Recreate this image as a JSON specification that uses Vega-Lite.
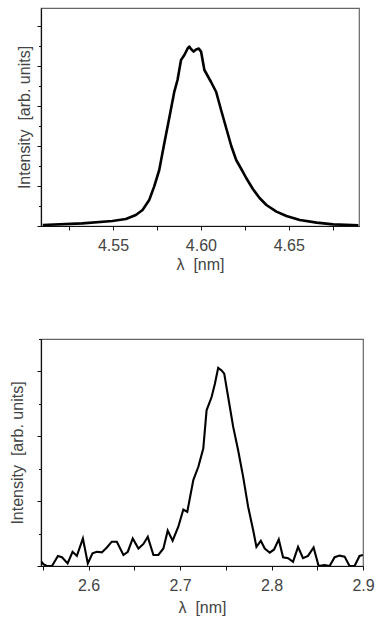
{
  "$schema": "https://vega.github.io/schema/vega-lite/v6.json",
  "background": "white",
  "padding": {"left": 8, "top": 7, "right": 5, "bottom": 5},
  "bounds": "flush",
  "spacing": 113,
  "config": {
    "view": {"stroke": "#666", "strokeWidth": 1.2},
    "font": "Liberation Sans",
    "axis": {
      "domainColor": "#111",
      "domainWidth": 1.2,
      "tickColor": "#111",
      "tickWidth": 1,
      "grid": false,
      "labelFont": "Liberation Sans",
      "labelFontSize": 16,
      "labelColor": "#444",
      "titleFont": "Liberation Sans",
      "titleFontSize": 16,
      "titleFontWeight": "normal",
      "titleColor": "#444",
      "labelOverlap": false,
      "labelFlush": false
    }
  },
  "datasets": {
    "top": [
      {"lambda": 4.510, "intensity": 0.05},
      {"lambda": 4.5325, "intensity": 0.13},
      {"lambda": 4.5496, "intensity": 0.25},
      {"lambda": 4.5573, "intensity": 0.35},
      {"lambda": 4.563, "intensity": 0.55},
      {"lambda": 4.5668, "intensity": 0.8},
      {"lambda": 4.5706, "intensity": 1.3},
      {"lambda": 4.5734, "intensity": 1.97},
      {"lambda": 4.5763, "intensity": 2.8},
      {"lambda": 4.5791, "intensity": 4.1},
      {"lambda": 4.582, "intensity": 5.4},
      {"lambda": 4.5849, "intensity": 6.72},
      {"lambda": 4.5867, "intensity": 7.3},
      {"lambda": 4.5887, "intensity": 8.3},
      {"lambda": 4.5906, "intensity": 8.55},
      {"lambda": 4.5925, "intensity": 8.88},
      {"lambda": 4.5934, "intensity": 8.97},
      {"lambda": 4.5944, "intensity": 8.85},
      {"lambda": 4.5959, "intensity": 8.72},
      {"lambda": 4.5973, "intensity": 8.83},
      {"lambda": 4.5988, "intensity": 8.87},
      {"lambda": 4.6001, "intensity": 8.72},
      {"lambda": 4.602, "intensity": 7.8},
      {"lambda": 4.6039, "intensity": 7.5},
      {"lambda": 4.6058, "intensity": 7.2},
      {"lambda": 4.6087, "intensity": 6.7},
      {"lambda": 4.6115, "intensity": 5.8},
      {"lambda": 4.6144, "intensity": 4.9},
      {"lambda": 4.6173, "intensity": 4.0},
      {"lambda": 4.6201, "intensity": 3.3},
      {"lambda": 4.623, "intensity": 2.85},
      {"lambda": 4.6258, "intensity": 2.4},
      {"lambda": 4.6296, "intensity": 1.85},
      {"lambda": 4.6334, "intensity": 1.4},
      {"lambda": 4.6373, "intensity": 1.05},
      {"lambda": 4.643, "intensity": 0.72},
      {"lambda": 4.6487, "intensity": 0.5},
      {"lambda": 4.6563, "intensity": 0.3},
      {"lambda": 4.6659, "intensity": 0.17},
      {"lambda": 4.6753, "intensity": 0.08},
      {"lambda": 4.6896, "intensity": 0.04}
    ],
    "bottom": [
      {"lambda": 2.5484, "intensity": 0.13},
      {"lambda": 2.5509, "intensity": 0.05},
      {"lambda": 2.5545, "intensity": 0},
      {"lambda": 2.56, "intensity": 0},
      {"lambda": 2.5665, "intensity": 0.31},
      {"lambda": 2.5709, "intensity": 0.27},
      {"lambda": 2.5771, "intensity": 0.08},
      {"lambda": 2.5825, "intensity": 0.44},
      {"lambda": 2.5872, "intensity": 0.31},
      {"lambda": 2.5938, "intensity": 0.85},
      {"lambda": 2.5992, "intensity": 0.08},
      {"lambda": 2.6043, "intensity": 0.39},
      {"lambda": 2.609, "intensity": 0.44},
      {"lambda": 2.6145, "intensity": 0.42},
      {"lambda": 2.62, "intensity": 0.57},
      {"lambda": 2.6254, "intensity": 0.75},
      {"lambda": 2.6309, "intensity": 0.75},
      {"lambda": 2.6381, "intensity": 0.34},
      {"lambda": 2.6429, "intensity": 0.44},
      {"lambda": 2.6483, "intensity": 0.85},
      {"lambda": 2.6545, "intensity": 0.54},
      {"lambda": 2.66, "intensity": 0.68},
      {"lambda": 2.6647, "intensity": 0.9},
      {"lambda": 2.6709, "intensity": 0.34},
      {"lambda": 2.6763, "intensity": 0.34},
      {"lambda": 2.6818, "intensity": 0.54},
      {"lambda": 2.6865, "intensity": 1.09},
      {"lambda": 2.6919, "intensity": 0.78},
      {"lambda": 2.6981, "intensity": 1.21},
      {"lambda": 2.7036, "intensity": 1.74},
      {"lambda": 2.7079, "intensity": 1.67},
      {"lambda": 2.7145, "intensity": 2.65},
      {"lambda": 2.72, "intensity": 3.06},
      {"lambda": 2.7254, "intensity": 3.62},
      {"lambda": 2.729, "intensity": 4.8},
      {"lambda": 2.7345, "intensity": 5.21},
      {"lambda": 2.7381, "intensity": 5.62},
      {"lambda": 2.7417, "intensity": 6.11},
      {"lambda": 2.7454, "intensity": 6.03},
      {"lambda": 2.7483, "intensity": 5.93},
      {"lambda": 2.7526, "intensity": 5.21},
      {"lambda": 2.7581, "intensity": 4.29},
      {"lambda": 2.7635, "intensity": 3.57},
      {"lambda": 2.769, "intensity": 2.75},
      {"lambda": 2.7744, "intensity": 1.83},
      {"lambda": 2.7799, "intensity": 1.11},
      {"lambda": 2.7835, "intensity": 0.59},
      {"lambda": 2.7883, "intensity": 0.78},
      {"lambda": 2.7926, "intensity": 0.54},
      {"lambda": 2.7981, "intensity": 0.41},
      {"lambda": 2.8028, "intensity": 0.51},
      {"lambda": 2.8079, "intensity": 0.82},
      {"lambda": 2.8126, "intensity": 0.27},
      {"lambda": 2.8181, "intensity": 0.24},
      {"lambda": 2.8235, "intensity": 0.13},
      {"lambda": 2.829, "intensity": 0.59},
      {"lambda": 2.8344, "intensity": 0.24},
      {"lambda": 2.8399, "intensity": 0.31},
      {"lambda": 2.846, "intensity": 0.57},
      {"lambda": 2.8515, "intensity": 0},
      {"lambda": 2.858, "intensity": 0.03},
      {"lambda": 2.8635, "intensity": 0},
      {"lambda": 2.869, "intensity": 0.27},
      {"lambda": 2.8744, "intensity": 0.32},
      {"lambda": 2.8799, "intensity": 0.29},
      {"lambda": 2.8853, "intensity": 0},
      {"lambda": 2.8908, "intensity": 0},
      {"lambda": 2.8962, "intensity": 0.31},
      {"lambda": 2.8999, "intensity": 0.34}
    ]
  },
  "vconcat": [
    {
      "width": 318,
      "height": 218,
      "data": {"name": "top"},
      "mark": {"type": "line", "color": "#000", "strokeWidth": 2.6, "clip": true, "strokeJoin": "round"},
      "encoding": {
        "x": {
          "field": "lambda", "type": "quantitative",
          "scale": {"domain": [4.509, 4.69], "nice": false, "zero": false},
          "axis": {
            "title": "λ\u00a0 [nm]",
            "values": [4.525, 4.55, 4.575, 4.6, 4.625, 4.65, 4.675],
            "labelExpr": "(round(datum.value*1000) % 50 == 0) ? format(datum.value, '.2f') : ''",
            "tickSize": 4,
            "labelPadding": 7,
            "titlePadding": 3
          }
        },
        "y": {
          "field": "intensity", "type": "quantitative",
          "scale": {"domain": [0, 10.9], "nice": false},
          "axis": {
            "title": "Intensity\u00a0 [arb. units]",
            "values": [0, 1, 2, 3, 4, 5, 6, 7, 8, 9, 10],
            "labels": false,
            "tickSize": {"condition": {"test": "datum.value % 2 === 0", "value": 4}, "value": 2.5},
            "titlePadding": 4
          }
        }
      }
    },
    {
      "width": 322,
      "height": 227,
      "data": {"name": "bottom"},
      "mark": {"type": "line", "color": "#000", "strokeWidth": 2.1, "clip": true},
      "encoding": {
        "x": {
          "field": "lambda", "type": "quantitative",
          "scale": {"domain": [2.548, 2.9], "nice": false, "zero": false},
          "axis": {
            "title": "λ\u00a0 [nm]",
            "values": [2.55, 2.6, 2.65, 2.7, 2.75, 2.8, 2.85, 2.9],
            "labelExpr": "(round(datum.value*100) % 10 == 0) ? format(datum.value, '.1f') : ''",
            "tickSize": 4,
            "labelPadding": 7,
            "titlePadding": 6
          }
        },
        "y": {
          "field": "intensity", "type": "quantitative",
          "scale": {"domain": [0, 7], "nice": false},
          "axis": {
            "title": "Intensity\u00a0 [arb. units]",
            "values": [0, 1, 2, 3, 4, 5, 6, 7],
            "labels": false,
            "tickSize": {"condition": {"test": "datum.value % 2 === 0", "value": 4}, "value": 2.5},
            "titlePadding": 11
          }
        }
      }
    }
  ]
}
